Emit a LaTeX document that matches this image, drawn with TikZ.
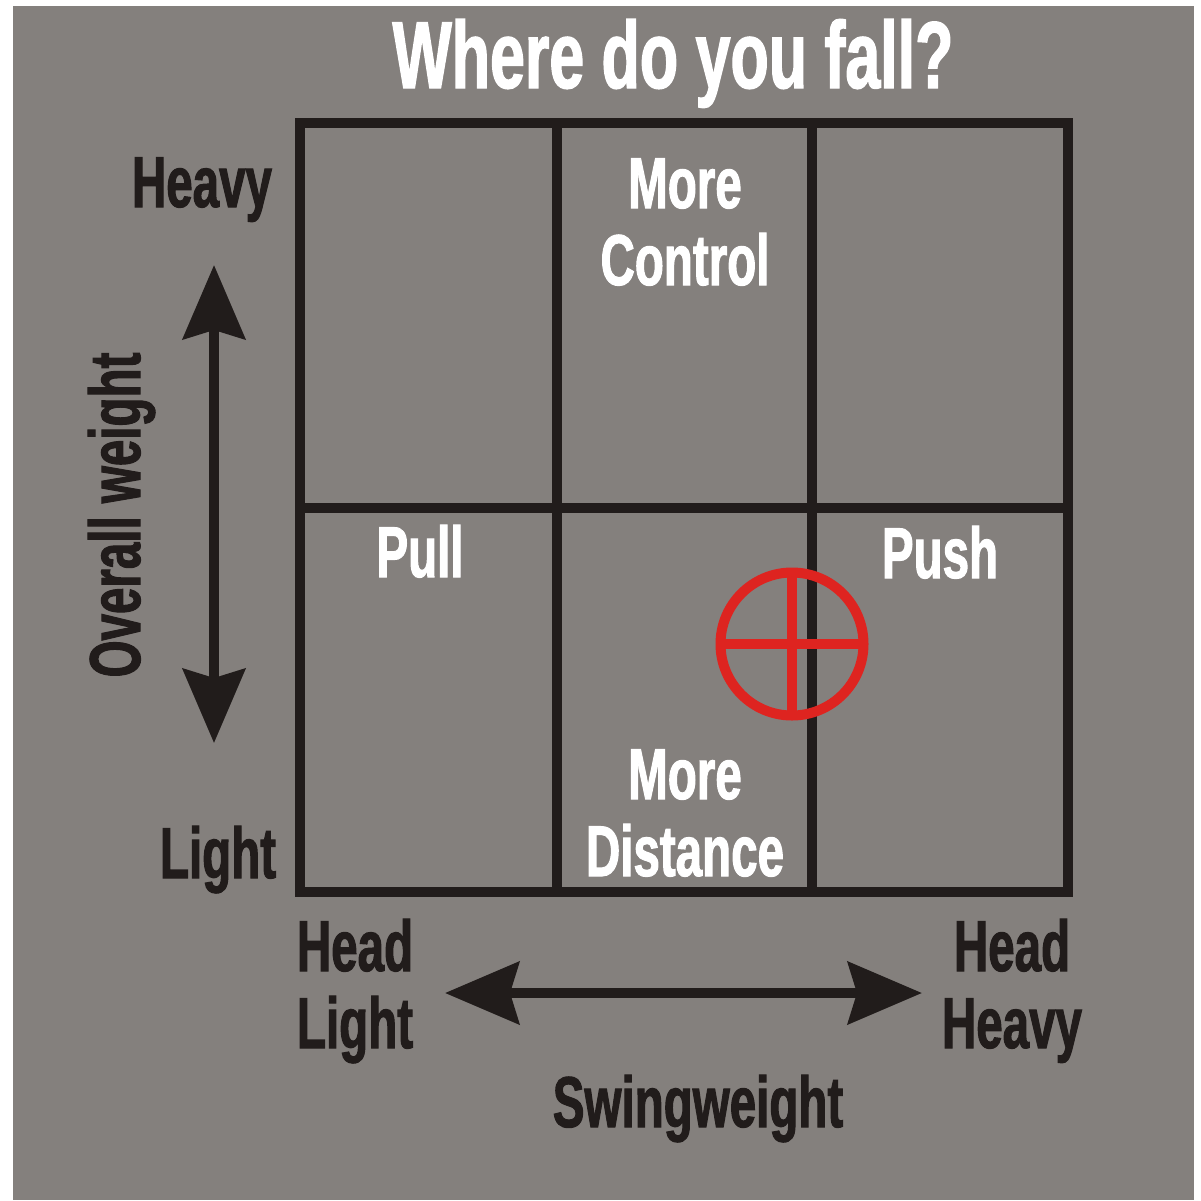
\documentclass[tikz,border=0pt]{standalone}
\usepackage{fontspec}
\usepackage{tikz}
\usetikzlibrary{arrows.meta, positioning, calc}

\newfontfamily\impactfont[FakeStretch=0.66, FakeBold=1.4]{Liberation Sans}
\definecolor{bggray}{RGB}{132,128,125}
\definecolor{inkdark}{RGB}{33,28,27}
\definecolor{targetred}{RGB}{222,36,32}

\begin{document}
\begin{tikzpicture}[x=1pt, y=-1pt,
    every node/.style={inner sep=0pt, outer sep=0pt},
    label/.style={font=\impactfont\bfseries\fontsize{72}{77}\selectfont, anchor=base},
    darklabel/.style={label, text=inkdark},
    lightlabel/.style={label, text=white},
    gridline/.style={line width=10pt, draw=inkdark},
    bigarrow/.style={line width=10pt, draw=inkdark,
        {Stealth[length=74pt, width=62pt, inset=9pt]}-{Stealth[length=74pt, width=62pt, inset=9pt]}},
    crosshair/.style={line width=10pt, draw=targetred}
]

% Background
\useasboundingbox (0,0) rectangle (1201,1200);
\fill[white] (0,0) rectangle (1201,1200);
\fill[bggray] (13,6) rectangle (1194,1200);

% Title
\node[lightlabel, font=\impactfont\bfseries\fontsize{95}{98}\selectfont] (title) at (673,88) {Where do you fall?};

% 3x2 grid
\draw[gridline] (300,123) rectangle (1068,892);
\draw[gridline] (557,123) -- (557,892);
\draw[gridline] (812,123) -- (812,892);
\draw[gridline] (300,508) -- (1068,508);

% Cell texts (base = last line)
\node[lightlabel, align=center] (control) at (685,285) {More\\Control};
\node[lightlabel] (pull) at (420,577) {Pull};
\node[lightlabel] (push) at (940,578) {Push};
\node[lightlabel, align=center] (distance) at (685,876) {More\\Distance};

% Target mark
\coordinate (target) at (792,644);
\draw[crosshair] (target) circle (71.5);
\draw[crosshair] ($(target)+(0,-71.5)$) -- ($(target)+(0,71.5)$);
\draw[crosshair] ($(target)+(-71.5,0)$) -- ($(target)+(71.5,0)$);

% Overall weight axis
\node[darklabel] (heavy) at (202,207) {Heavy};
\node[darklabel] (light) at (218,878) {Light};
\node[darklabel, rotate=90] (overall) at (140,515) {Overall weight};
\coordinate (vtop) at (214,265);
\coordinate (vbot) at (214,743);
\draw[bigarrow] (vtop) -- (vbot);

% Swingweight axis
\node[darklabel, align=center] (headlight) at (355,1048) {Head\\Light};
\node[darklabel, align=center] (headheavy) at (1012,1048) {Head\\Heavy};
\node[darklabel] (swing) at (698,1127) {Swingweight};
\coordinate (hleft) at (445,993);
\coordinate (hright) at (922,993);
\draw[bigarrow] (hleft) -- (hright);

\end{tikzpicture}
\end{document}
